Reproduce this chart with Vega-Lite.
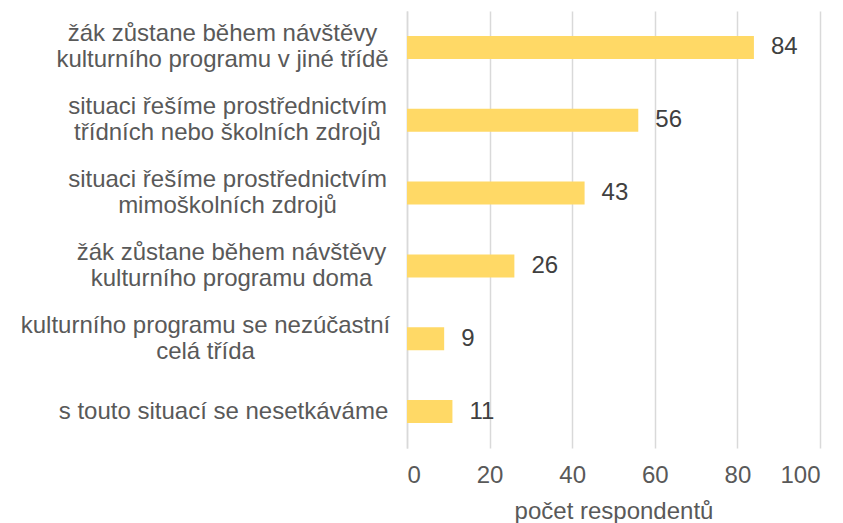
{
  "$schema": "https://vega.github.io/schema/vega-lite/v6.json",
  "autosize": "none",
  "width": 413,
  "height": 437,
  "padding": {"left": 407, "top": 11, "right": 23, "bottom": 75},
  "background": "white",
  "config": {
    "view": {"stroke": null},
    "font": "Liberation Sans"
  },
  "data": {
    "values": [
      {"label": "žák zůstane během návštěvy|kulturního programu v jiné třídě", "value": 84},
      {"label": "situaci řešíme prostřednictvím|třídních nebo školních zdrojů", "value": 56},
      {"label": "situaci řešíme prostřednictvím|mimoškolních zdrojů", "value": 43},
      {"label": "žák zůstane během návštěvy|kulturního programu doma", "value": 26},
      {"label": "kulturního programu se nezúčastní|celá třída", "value": 9},
      {"label": "s touto situací se nesetkáváme", "value": 11}
    ]
  },
  "encoding": {
    "y": {
      "field": "label",
      "type": "nominal",
      "sort": null,
      "scale": {"paddingInner": 0.685, "paddingOuter": 0.3425},
      "axis": {
        "title": null,
        "labelExpr": "split(datum.label, '|')",
        "labelAlign": "center",
        "labelBaseline": "middle",
        "labelPadding": {
          "condition": [
            {"test": "indexof(datum.value, 'v jiné') >= 0", "value": 185},
            {"test": "indexof(datum.value, 'třídních') >= 0", "value": 180},
            {"test": "indexof(datum.value, 'mimoškolních') >= 0", "value": 180},
            {"test": "indexof(datum.value, 'doma') >= 0", "value": 176},
            {"test": "indexof(datum.value, 'celá') >= 0", "value": 202}
          ],
          "value": 184
        },
        "labelOffset": {
          "condition": {"test": "indexof(datum.value, '|') >= 0", "value": -13},
          "value": 0
        },
        "labelLimit": 450,
        "labelFontSize": 24,
        "labelLineHeight": 26,
        "labelColor": "#595959",
        "ticks": false,
        "domainColor": "#D9D9D9",
        "domainWidth": 1.5
      }
    },
    "x": {
      "field": "value",
      "type": "quantitative",
      "scale": {"domain": [0, 100], "nice": false},
      "axis": {
        "title": "počet respondentů",
        "titleFontSize": 24,
        "titleFontWeight": "normal",
        "titleColor": "#595959",
        "titlePadding": 12,
        "values": [0, 20, 40, 60, 80, 100],
        "labelFontSize": 24,
        "labelColor": "#595959",
        "labelPadding": 15,
        "ticks": false,
        "domain": false,
        "gridColor": "#D9D9D9",
        "gridWidth": 1.5
      }
    }
  },
  "layer": [
    {"mark": {"type": "bar", "color": "#FFD966"}},
    {
      "mark": {"type": "text", "align": "left", "baseline": "middle", "dx": 17, "fontSize": 24, "color": "#404040"},
      "encoding": {"text": {"field": "value", "type": "quantitative"}}
    }
  ]
}
